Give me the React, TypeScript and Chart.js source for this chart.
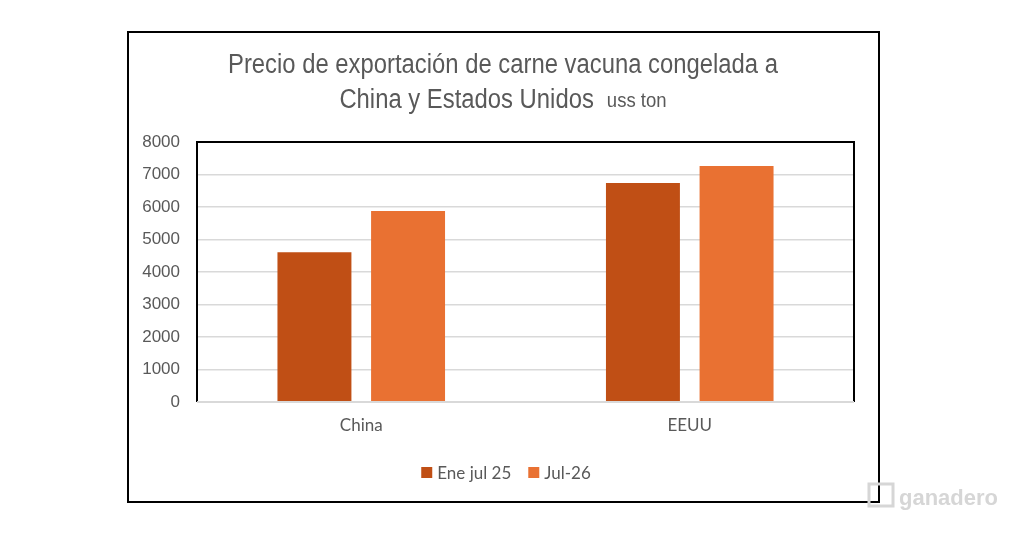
import React, { useEffect, useRef } from 'react';
import { Chart, registerables } from 'chart.js';

Chart.register(...registerables);

// data
const categories = ['China', 'EEUU'];
const seriesNames = ['Ene jul 25', 'Jul-26'];
const eneJul25 = [4610, 6740];
const jul26 = [5880, 7260];
const yMin = 0;
const yMax = 8000;
const yStep = 1000;

const titleLine1 = 'Precio de exportación de carne vacuna congelada a';
const titleLine2 = 'China y Estados Unidos';
const titleUnit = 'uss ton';

const DARK_ORANGE = '#C04F15';
const ORANGE = '#E97132';
const TEXT_GRAY = '#595959';
const GRID_GRAY = '#D9D9D9';
const NARROW = '"Liberation Sans Narrow", "Liberation Sans", Arial, sans-serif';
const LEGEND_FONT = '17px Lato, "Liberation Sans", sans-serif';

const App: React.FC = () => {
  const canvasRef = useRef<HTMLCanvasElement | null>(null);
  const chartInstance = useRef<Chart | null>(null);

  useEffect(() => {
    const canvas = canvasRef.current;
    if (!canvas) return;
    const ctx = canvas.getContext('2d');
    if (!ctx) return;

    if (chartInstance.current) {
      chartInstance.current.destroy();
    }

    chartInstance.current = new Chart(ctx, {
      type: 'bar',
      data: {
        labels: categories,
        datasets: [
          {
            label: seriesNames[0],
            data: eneJul25,
            backgroundColor: DARK_ORANGE,
            categoryPercentage: 0.57,
            barPercentage: 0.79,
          },
          {
            label: seriesNames[1],
            data: jul26,
            backgroundColor: ORANGE,
            categoryPercentage: 0.57,
            barPercentage: 0.79,
          },
        ],
      },
      options: {
        responsive: false,
        animation: false,
        devicePixelRatio: 1,
        layout: {
          padding: { left: 0, right: 170, top: 142, bottom: 0 },
        },
        plugins: {
          title: { display: false },
          tooltip: { enabled: false },
          legend: { display: false },
        },
        scales: {
          x: {
            afterFit(scale: any) {
              scale.height = 133;
            },
            grid: { display: false, drawTicks: false },
            border: { display: false },
            ticks: {
              color: TEXT_GRAY,
              padding: 13,
              font: { family: 'Lato, "Liberation Sans", sans-serif', size: 17 },
            },
          },
          y: {
            min: yMin,
            max: yMax,
            afterFit(scale: any) {
              scale.width = 197;
            },
            grid: { color: GRID_GRAY, lineWidth: 1.5, drawTicks: false },
            border: { display: false },
            ticks: {
              stepSize: yStep,
              color: TEXT_GRAY,
              padding: 17,
              font: { family: '"Liberation Sans", Arial, sans-serif', size: 17 },
              callback: (value: any) => String(value),
            },
          },
        },
      },
      plugins: [
        {
          id: 'frameAndTitle',
          afterDatasetsDraw(chart) {
            const { ctx, chartArea } = chart;
            ctx.save();
            // plot box: black top/left/right, gray baseline
            ctx.strokeStyle = '#000';
            ctx.lineWidth = 2;
            ctx.beginPath();
            ctx.moveTo(chartArea.left, chartArea.bottom);
            ctx.lineTo(chartArea.left, chartArea.top);
            ctx.lineTo(chartArea.right, chartArea.top);
            ctx.lineTo(chartArea.right, chartArea.bottom);
            ctx.stroke();
            ctx.strokeStyle = GRID_GRAY;
            ctx.beginPath();
            ctx.moveTo(chartArea.left, chartArea.bottom);
            ctx.lineTo(chartArea.right, chartArea.bottom);
            ctx.stroke();
            ctx.restore();
          },
          afterDraw(chart) {
            const { ctx } = chart;
            ctx.save();
            // outer frame
            ctx.strokeStyle = '#000';
            ctx.lineWidth = 2;
            ctx.strokeRect(128, 32, 751, 470);

            // title, narrow sans
            ctx.fillStyle = TEXT_GRAY;
            ctx.textBaseline = 'alphabetic';
            ctx.textAlign = 'left';
            ctx.font = '27px ' + NARROW;
            const w1 = ctx.measureText(titleLine1).width;
            const sx = 550 / w1;
            const cx = 503;
            ctx.save();
            ctx.translate(cx - 275, 73);
            ctx.scale(sx, 1);
            ctx.fillText(titleLine1, 0, 0);
            ctx.restore();

            const w2 = ctx.measureText(titleLine2).width * sx;
            ctx.font = '21px ' + NARROW;
            const w3 = ctx.measureText(titleUnit).width * sx;
            const gap = 13;
            const startX = cx - (w2 + gap + w3) / 2;
            ctx.font = '27px ' + NARROW;
            ctx.save();
            ctx.translate(startX, 108);
            ctx.scale(sx, 1);
            ctx.fillText(titleLine2, 0, 0);
            ctx.restore();
            ctx.font = '21px ' + NARROW;
            ctx.save();
            ctx.translate(startX + w2 + gap, 107);
            ctx.scale(sx, 1);
            ctx.fillText(titleUnit, 0, 0);
            ctx.restore();

            // legend from the datasets, centred under the frame
            ctx.font = LEGEND_FONT;
            ctx.textBaseline = 'middle';
            const box = 11;
            const textGap = 5;
            const itemGap = 17;
            const items = chart.data.datasets.map((ds) => ({
              label: String(ds.label),
              color: String(ds.backgroundColor),
              w: box + textGap + ctx.measureText(String(ds.label)).width,
            }));
            const total = items.reduce((s, it) => s + it.w, 0) + itemGap * (items.length - 1);
            let x = 506 - total / 2;
            const ly = 472.5;
            items.forEach((it) => {
              ctx.fillStyle = it.color;
              ctx.fillRect(x, ly - box / 2, box, box);
              ctx.fillStyle = TEXT_GRAY;
              ctx.fillText(it.label, x + box + textGap, ly + 1);
              x += it.w + itemGap;
            });

            // faint watermark
            ctx.textBaseline = 'alphabetic';
            ctx.strokeStyle = '#D6D6D6';
            ctx.lineWidth = 3;
            ctx.strokeRect(869, 484, 24, 22);
            ctx.fillStyle = '#D6D6D6';
            ctx.font = 'bold 22px ' + NARROW;
            ctx.fillText('ganadero', 899, 505);
            ctx.restore();
          },
        },
      ],
    });

    return () => {
      if (chartInstance.current) {
        chartInstance.current.destroy();
        chartInstance.current = null;
      }
    };
  }, []);

  return (
    <div style={{ position: 'fixed', left: 0, top: 0, width: 1024, height: 535, background: '#fff' }}>
      <canvas ref={canvasRef} width={1024} height={535} style={{ width: 1024, height: 535 }}></canvas>
    </div>
  );
};

export default App;
